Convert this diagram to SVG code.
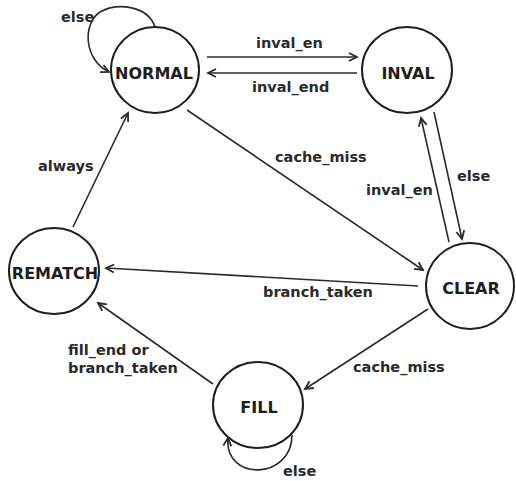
<svg xmlns="http://www.w3.org/2000/svg" width="516" height="481" viewBox="0 0 516 481">
  <style>
    .state { fill: #ffffff; stroke: #1e1e1e; stroke-width: 2; }
    .state-label { font-family: "DejaVu Sans", "Liberation Sans", sans-serif; font-weight: bold; font-size: 16px; fill: #1e1e1e; text-anchor: middle; }
    .edge { fill: none; stroke: #2a2a2a; stroke-width: 1.6; marker-end: url(#arrow); }
    .edge-label { font-family: "DejaVu Sans", "Liberation Sans", sans-serif; font-weight: bold; font-size: 14.5px; fill: #2a2a2a; }
  </style>
  <defs>
    <marker id="arrow" markerUnits="userSpaceOnUse" markerWidth="12" markerHeight="12" viewBox="0 0 12 12" refX="10" refY="6" orient="auto">
      <path d="M2,2 L10,6 L2,10" fill="none" stroke="#2a2a2a" stroke-width="1.8"/>
    </marker>
  </defs>
  <rect width="516" height="481" fill="#ffffff"/>

  <g id="connectors">
    <!-- NORMAL self loop -->
    <path class="edge" d="M155,27 C148,6 118,2 100,12 C82,24 84,60 109,72"/>
    <text class="edge-label" x="61" y="22">else</text>
    <!-- NORMAL -> INVAL -->
    <path class="edge" d="M207,57 L357,57"/>
    <text class="edge-label" x="256" y="48">inval_en</text>
    <!-- INVAL -> NORMAL -->
    <path class="edge" d="M357,73 L208,73"/>
    <text class="edge-label" x="252" y="92">inval_end</text>
    <!-- NORMAL -> CLEAR -->
    <path class="edge" d="M187,110 L423,270"/>
    <text class="edge-label" x="275" y="162">cache_miss</text>
    <!-- CLEAR -> INVAL -->
    <path class="edge" d="M449,242 L421,118"/>
    <text class="edge-label" x="366" y="195">inval_en</text>
    <!-- INVAL -> CLEAR -->
    <path class="edge" d="M434,112 L462,239"/>
    <text class="edge-label" x="457" y="181">else</text>
    <!-- CLEAR -> REMATCH -->
    <path class="edge" d="M418,286 L106,268"/>
    <text class="edge-label" x="263" y="297">branch_taken</text>
    <!-- REMATCH -> NORMAL -->
    <path class="edge" d="M73,227 L128,113"/>
    <text class="edge-label" x="38" y="171">always</text>
    <!-- CLEAR -> FILL -->
    <path class="edge" d="M428,309 L305,389"/>
    <text class="edge-label" x="353" y="372">cache_miss</text>
    <!-- FILL -> REMATCH -->
    <path class="edge" d="M213,384 L98,303"/>
    <text class="edge-label" x="68" y="355">fill_end or</text>
    <text class="edge-label" x="68" y="373">branch_taken</text>
    <!-- FILL self loop -->
    <path class="edge" d="M292,435 C292,480 224,482 228,438"/>
    <text class="edge-label" x="283" y="476">else</text>
  </g>

  <g id="node-normal">
    <ellipse class="state" cx="155" cy="70" rx="44" ry="43"/>
    <text class="state-label" x="154" y="79">NORMAL</text>
  </g>
  <g id="node-inval">
    <ellipse class="state" cx="407" cy="70" rx="45" ry="43"/>
    <text class="state-label" x="408" y="79">INVAL</text>
  </g>
  <g id="node-rematch">
    <ellipse class="state" cx="54" cy="271" rx="45" ry="43"/>
    <text class="state-label" x="55" y="279">REMATCH</text>
  </g>
  <g id="node-clear">
    <ellipse class="state" cx="470" cy="286" rx="44" ry="43"/>
    <text class="state-label" x="471" y="294">CLEAR</text>
  </g>
  <g id="node-fill">
    <ellipse class="state" cx="258" cy="405" rx="45" ry="43"/>
    <text class="state-label" x="259" y="413">FILL</text>
  </g>
</svg>
